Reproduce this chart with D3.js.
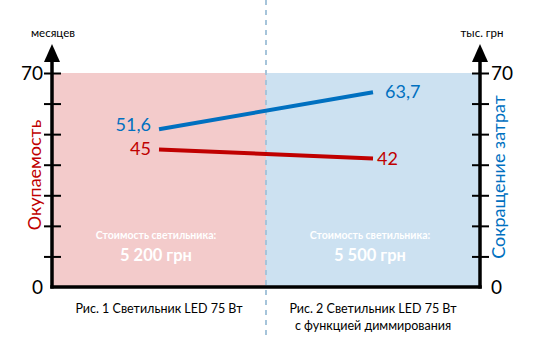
<!DOCTYPE html>
<html><head><meta charset="utf-8">
<script src="https://cdn.jsdelivr.net/npm/d3@7"></script>
<style>
body{margin:0;background:#fff;}
svg text{font-family:Lato,"Open Sans",sans-serif;}
</style></head>
<body><svg id="c" width="534" height="340"></svg>
<script>
const categories = ["Рис. 1 Светильник LED 75 Вт", "Рис. 2 Светильник LED 75 Вт\nс функцией диммирования"];
const paybackMonths = [45, 42];          // Окупаемость, месяцев
const costSavings = [51.6, 63.7];        // Сокращение затрат, тыс. грн
const lampPrices = ["5 200 грн", "5 500 грн"];
const axisTicks = [0, 10, 20, 30, 40, 50, 60, 70];
const tickLabels = ["0", "70"];

const svg = d3.select("#c");
const L = 52, R = 480, T = 73, B = 287;
const x = d3.scaleBand().domain(categories).range([L, R]).padding(0);
const y = d3.scaleLinear().domain([0, 70]).range([B, T]);
const bgColors = ["#F3CBCB", "#CCE1F1"];
const red = "#C00000", blue = "#0070C0";

// background panels
svg.selectAll("rect.bg").data(categories).enter().append("rect")
  .attr("x", d => x(d)).attr("y", y(70))
  .attr("width", x.bandwidth()).attr("height", y(0) - y(70))
  .attr("fill", (d, i) => bgColors[i]);

// dashed divider
svg.append("line").attr("x1", x(categories[1])).attr("x2", x(categories[1]))
  .attr("y1", 0).attr("y2", 340)
  .attr("stroke", "#A6C4DA").attr("stroke-width", 2).attr("stroke-dasharray", "5,5");

// axes
const leftAxis = d3.axisLeft(y).tickValues(axisTicks).tickSize(0).tickFormat("");
const rightAxis = d3.axisRight(y).tickValues(axisTicks).tickSize(0).tickFormat("");
function styleAxis(g) {
  g.select(".domain").remove();
  g.selectAll(".tick line").remove();
  g.selectAll(".tick").append("line")
    .attr("x1", -8).attr("x2", 9).attr("stroke", "#000").attr("stroke-width", 2)
    .filter(d => d === 0).remove();
}
const gl = svg.append("g").attr("transform", `translate(${L},0)`).call(leftAxis);
styleAxis(gl);
const gr = svg.append("g").attr("transform", `translate(${R},0)`).call(rightAxis);
styleAxis(gr);

// axis lines with arrows
svg.append("line").attr("x1", L).attr("x2", L).attr("y1", 58).attr("y2", B + 1.5)
  .attr("stroke", "#000").attr("stroke-width", 3.5);
svg.append("line").attr("x1", R).attr("x2", R).attr("y1", 58).attr("y2", B + 1.5)
  .attr("stroke", "#000").attr("stroke-width", 3.5);
svg.append("line").attr("x1", L - 1.75).attr("x2", R + 1.75).attr("y1", B).attr("y2", B)
  .attr("stroke", "#000").attr("stroke-width", 3.5);
[L, R].forEach(ax => {
  svg.append("path").attr("d", `M${ax},44 L${ax + 8},62 L${ax - 8},62 Z`).attr("fill", "#000");
});

// unit labels
svg.append("text").attr("x", L + 1).attr("y", 37).attr("text-anchor", "middle")
  .attr("font-size", 11.5).text("месяцев");
svg.append("text").attr("x", R + 2).attr("y", 37).attr("text-anchor", "middle")
  .attr("font-size", 11.5).text("тыс. грн");

// tick labels 0 / 70
svg.append("text").attr("x", L - 9).attr("y", y(70)).attr("dy", "0.35em").attr("text-anchor", "end")
  .attr("font-size", 19).text(tickLabels[1]);
svg.append("text").attr("x", L - 9).attr("y", y(0)).attr("dy", "0.35em").attr("text-anchor", "end")
  .attr("font-size", 19).text(tickLabels[0]);
svg.append("text").attr("x", R + 11).attr("y", y(70)).attr("dy", "0.35em").attr("text-anchor", "start")
  .attr("font-size", 19).text(tickLabels[1]);
svg.append("text").attr("x", R + 11).attr("y", y(0)).attr("dy", "0.35em").attr("text-anchor", "start")
  .attr("font-size", 19).text(tickLabels[0]);

// axis titles
svg.append("text").attr("transform", `translate(41,175) rotate(-90)`).attr("text-anchor", "middle")
  .attr("font-size", 18).attr("fill", red).text("Окупаемость");
svg.append("text").attr("transform", `translate(505,177) rotate(-90)`).attr("text-anchor", "middle")
  .attr("font-size", 18).attr("fill", blue).text("Сокращение затрат");

// lines
const cx = d => x(d) + x.bandwidth() / 2;
const line = d3.line().x(d => cx(d[0])).y(d => y(d[1]));
svg.append("path").datum(categories.map((c, i) => [c, costSavings[i]])).attr("d", line)
  .attr("fill", "none").attr("stroke", blue).attr("stroke-width", 4);
svg.append("path").datum(categories.map((c, i) => [c, paybackMonths[i]])).attr("d", line)
  .attr("fill", "none").attr("stroke", red).attr("stroke-width", 4);

const fmt = v => String(v).replace(".", ",");
// value labels
svg.append("text").attr("x", cx(categories[0]) - 8).attr("y", y(costSavings[0])).attr("dy", "0.1em")
  .attr("text-anchor", "end").attr("font-size", 18).attr("fill", blue).text(fmt(costSavings[0]));
svg.append("text").attr("x", cx(categories[0]) - 8).attr("y", y(paybackMonths[0])).attr("dy", "0.3em")
  .attr("text-anchor", "end").attr("font-size", 18).attr("fill", red).text(fmt(paybackMonths[0]));
svg.append("text").attr("x", cx(categories[1]) + 12).attr("y", y(costSavings[1])).attr("dy", "0.3em")
  .attr("text-anchor", "start").attr("font-size", 18).attr("fill", blue).text(fmt(costSavings[1]));
svg.append("text").attr("x", cx(categories[1]) + 4).attr("y", y(paybackMonths[1])).attr("dy", "0.35em")
  .attr("text-anchor", "start").attr("font-size", 18).attr("fill", red).text(fmt(paybackMonths[1]));

// price labels
categories.forEach((c, i) => {
  svg.append("text").attr("x", cx(c) - 3).attr("y", 239).attr("text-anchor", "middle")
    .attr("font-size", 10.5).attr("font-weight", "bold").attr("fill", "#fff").text("Стоимость светильника:");
  svg.append("text").attr("x", cx(c) - 3).attr("y", 261).attr("text-anchor", "middle")
    .attr("font-size", 16.5).attr("font-weight", "bold").attr("fill", "#fff").text(lampPrices[i]);
});

// category labels
categories.forEach(c => {
  c.split("\n").forEach((ln, j) => {
    svg.append("text").attr("x", cx(c)).attr("y", 313 + j * 17).attr("text-anchor", "middle")
      .attr("font-size", 12.5).attr("fill", "#000").text(ln);
  });
});
</script></body></html>
